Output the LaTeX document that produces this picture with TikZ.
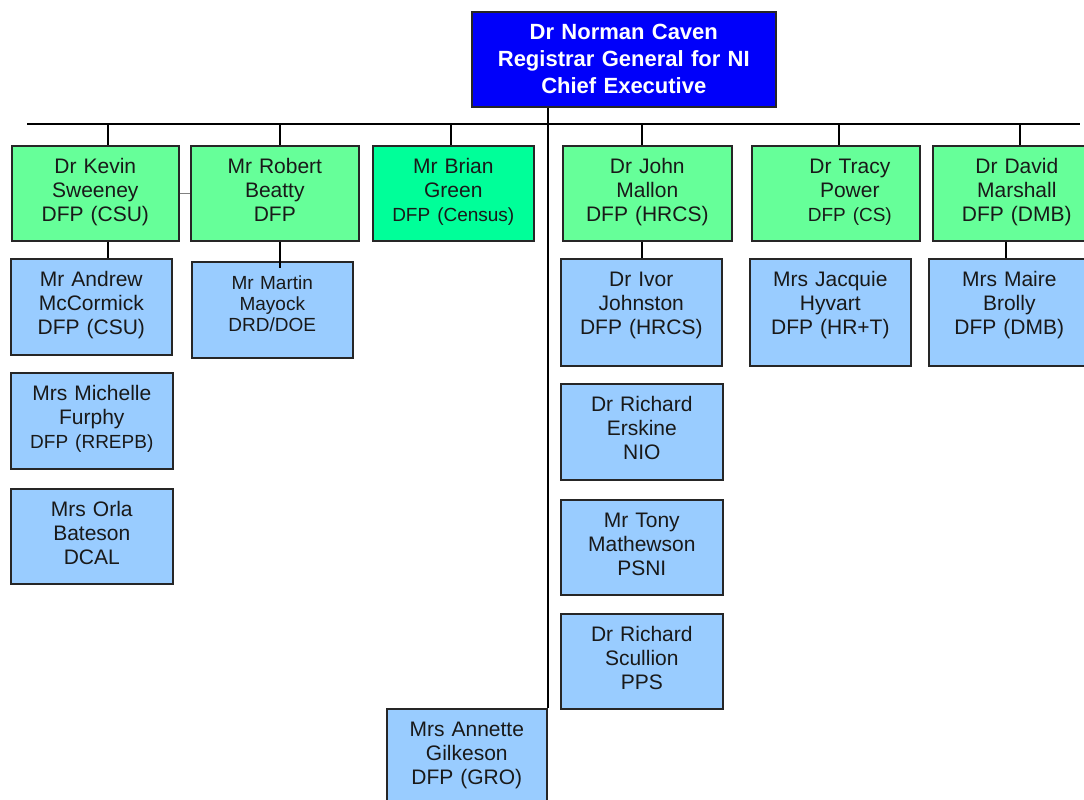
\documentclass[tikz,border=0pt]{standalone}
\usepackage{fontspec}
\setmainfont{Liberation Sans}
\definecolor{headblue}{RGB}{0,0,250}
\definecolor{leadgreen}{RGB}{102,255,153}
\definecolor{censusgreen}{RGB}{0,255,153}
\definecolor{staffblue}{RGB}{153,204,255}
\newcommand{\subline}[1]{{\fontsize{19}{24}\selectfont #1}}

\begin{document}
\begin{tikzpicture}[x=1pt,y=-1pt,line width=1.9pt,
        person/.style={draw=black!85,line width=1.6pt,anchor=north west,inner sep=0pt,align=center,
            text height=28pt,text=black!90,font=\fontsize{21}{24}\selectfont},
        boxsize/.style 2 args={text width=#1pt,text depth=#2pt},
        head/.style={person,fill=headblue,text=white,font=\fontsize{22}{27}\selectfont\bfseries},
        lead/.style={person,fill=leadgreen},
        census/.style={person,fill=censusgreen},
        staff/.style={person,fill=staffblue}]
        \useasboundingbox (0,0) rectangle (1084,800);
        \clip (0,0) rectangle (1084,800);
        \fill[white] (0,0) rectangle (1084,800);

        \node[head,boxsize={304}{67}] (chief) at (471,11) {Dr Norman Caven\\Registrar General for NI\\Chief Executive};

        \node[lead,boxsize={167}{67}] (sweeney) at (11,145) {Dr Kevin\\Sweeney\\DFP (CSU)};
        \node[lead,boxsize={168}{67}] (beatty) at (190,145) {Mr Robert\\Beatty\\DFP};
        \node[census,boxsize={161}{67}] (green) at (372,145) {Mr Brian\\Green\\\subline{DFP (Census)}};
        \node[lead,boxsize={169}{67}] (mallon) at (562,145) {Dr John\\Mallon\\DFP (HRCS)};
        \node[lead,boxsize={168}{67}] (power) at (751,145) {\hspace*{28pt}Dr Tracy\\\hspace*{28pt}Power\\\hspace*{28pt}\subline{DFP (CS)}};
        \node[lead,boxsize={168}{67}] (marshall) at (932,145) {Dr David\\Marshall\\DFP (DMB)};

        \node[staff,boxsize={161}{68}] (mccormick) at (10,258) {Mr Andrew\\McCormick\\DFP (CSU)};
        \node[staff,boxsize={161}{68},font=\fontsize{19}{21}\selectfont] (mayock) at (191,261) {Mr Martin\\Mayock\\DRD/DOE};
        \node[staff,boxsize={162}{68}] (furphy) at (10,372) {Mrs Michelle\\Furphy\\\subline{DFP (RREPB)}};
        \node[staff,boxsize={162}{67}] (bateson) at (10,488) {Mrs Orla\\Bateson\\DCAL};
        \node[staff,boxsize={161}{79}] (johnston) at (560,258) {Dr Ivor\\Johnston\\DFP (HRCS)};
        \node[staff,boxsize={162}{68}] (erskine) at (560,383) {Dr Richard\\Erskine\\NIO};
        \node[staff,boxsize={162}{67}] (mathewson) at (560,499) {Mr Tony\\Mathewson\\PSNI};
        \node[staff,boxsize={162}{67}] (scullion) at (560,613) {Dr Richard\\Scullion\\PPS};
        \node[staff,boxsize={161}{79}] (hyvart) at (749,258) {Mrs Jacquie\\Hyvart\\DFP (HR+T)};
        \node[staff,boxsize={161}{79}] (brolly) at (928,258) {Mrs Maire\\Brolly\\DFP (DMB)};
        \node[staff,boxsize={160}{72}] (gilkeson) at (386,708) {Mrs Annette\\Gilkeson\\DFP (GRO)};

        \coordinate (busL) at (27,124);
        \coordinate (busR) at (1080,124);
        \draw (busL)--(busR);
        \draw (chief.south -| gilkeson.north east)--(gilkeson.north east);
        \foreach \boss/\dx in {sweeney/12.5,beatty/5,green/-2.5,mallon/-5.5,power/3.5,marshall/3}
            {
                \draw ([xshift=\dx]\boss.north)--([xshift=\dx]\boss.north |- busL);
            }
        \draw ([xshift=12.5]sweeney.south)--([xshift=12.5]sweeney.south |- mccormick.north);
        \draw ([xshift=5]beatty.south)--([xshift=5,yshift=-7]beatty.south |- mayock.north);
        \draw ([xshift=-5.5]mallon.south)--([xshift=-5.5]mallon.south |- johnston.north);
        \draw ([xshift=-11]marshall.south)--([xshift=-11]marshall.south |- brolly.north);
        \draw[gray,line width=1pt] (sweeney.east)--(beatty.west);
    \end{tikzpicture}
\end{document}
